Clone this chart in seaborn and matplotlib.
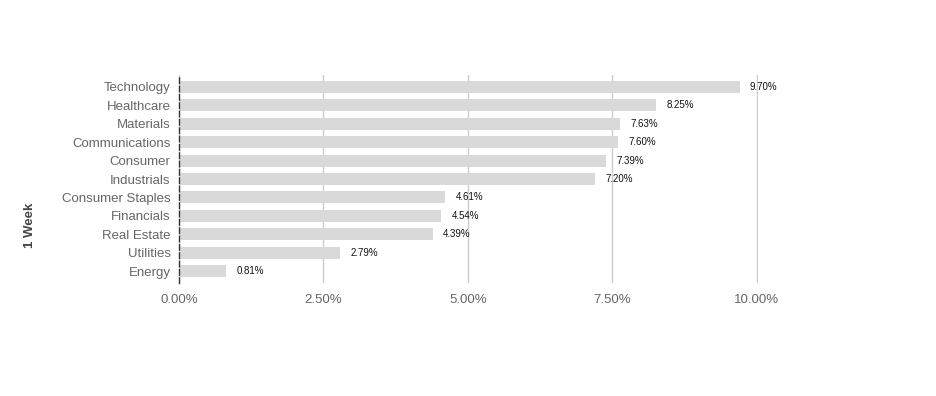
import matplotlib
matplotlib.use("Agg")
import matplotlib.pyplot as plt
import seaborn as sns
import pandas as pd

categories = ["Technology", "Healthcare", "Materials", "Communications", "Consumer",
              "Industrials", "Consumer Staples", "Financials", "Real Estate", "Utilities", "Energy"]
values = [9.70, 8.25, 7.63, 7.60, 7.39, 7.20, 4.61, 4.54, 4.39, 2.79, 0.81]
xticks = [0, 2.5, 5, 7.5, 10]
xtick_labels = ["0.00%", "2.50%", "5.00%", "7.50%", "10.00%"]

sns.set_theme(style="white")
plt.rcParams['font.family'] = ['Liberation Sans', 'DejaVu Sans']

df = pd.DataFrame({"sector": categories, "value": values})

fig = plt.figure(figsize=(9.36, 3.96), dpi=100)
ax = fig.add_axes([179/936, 1-283/396, (758-179)/936, (283-75)/396])

sns.barplot(data=df, x="value", y="sector", order=categories, color="#d9d9d9",
            width=0.65, ax=ax, saturation=1, edgecolor="none")

ax.set_xlim(0, 10.02)
ax.set_xticks(xticks)
ax.set_xticklabels(xtick_labels)
ax.set_ylim(len(categories) - 0.35, -0.65)
ax.grid(axis="x", color="#cccccc", linewidth=1)
ax.set_axisbelow(True)
for s in ["top", "right", "bottom"]:
    ax.spines[s].set_visible(False)
ax.spines["left"].set_visible(True)
ax.spines["left"].set_color("#333333")
ax.spines["left"].set_linestyle((0, (4, 2)))
ax.spines["left"].set_linewidth(1)

ax.tick_params(axis="x", colors="#666666", labelsize=9.5, length=0, pad=8)
ax.tick_params(axis="y", colors="#666666", labelsize=9.5, length=0, pad=6)
for lbl in ax.get_xticklabels() + ax.get_yticklabels():
    lbl.set_color("#666666")

ax.set_xlabel("")
ax.set_ylabel("")
fig.text(30/936, 1-225/396, "1 Week", rotation=90, ha="center", va="center",
         fontsize=9.5, fontweight="bold", color="#444444")

for i, v in enumerate(values):
    ax.annotate(f"{v:.2f}%", xy=(v, i), xytext=(7.5, 0), textcoords="offset points",
                va="center", ha="left", fontsize=7, color="#111111")

fig.savefig("out.png", dpi=100, facecolor="white")
